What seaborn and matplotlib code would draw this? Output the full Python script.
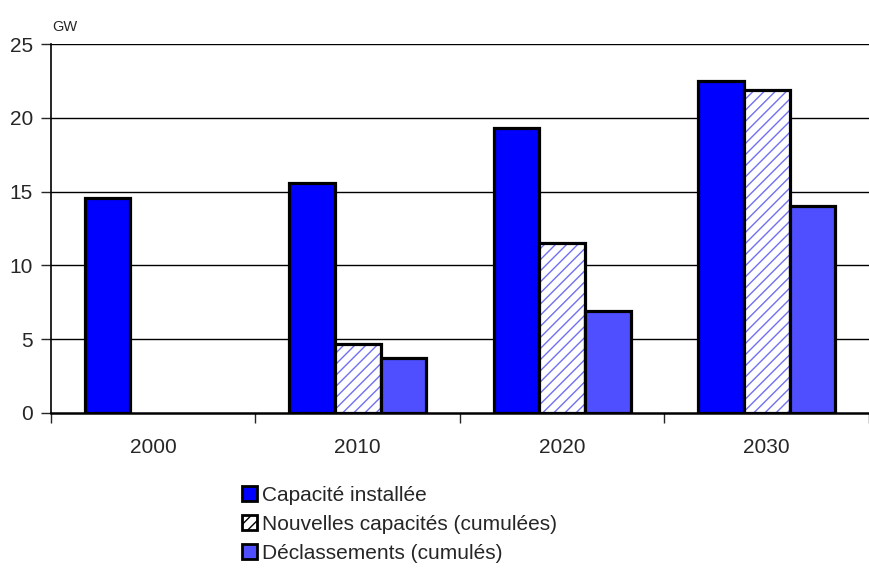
import matplotlib
matplotlib.use("Agg")
import matplotlib.pyplot as plt
import seaborn as sns
import pandas as pd
from matplotlib.patches import Patch

years = ["2000", "2010", "2020", "2030"]
series = ["Capacité installée", "Nouvelles capacités (cumulées)", "Déclassements (cumulés)"]
capacite = [14.6, 15.6, 19.3, 22.5]
nouvelles = [0, 4.7, 11.5, 21.9]
declass = [0, 3.7, 6.9, 14.0]
yticks = [0, 5, 10, 15, 20, 25]

rows = []
for name, vals in zip(series, [capacite, nouvelles, declass]):
    for y, v in zip(years, vals):
        rows.append({"year": y, "series": name, "value": v})
df = pd.DataFrame(rows)

sns.set_style("white")
plt.rcParams["font.family"] = ["Liberation Sans", "DejaVu Sans"]
plt.rcParams["hatch.linewidth"] = 1.0

colors = {"Capacité installée": "#0000FF",
          "Nouvelles capacités (cumulées)": "#FFFFFF",
          "Déclassements (cumulés)": "#4F4FFF"}

fig = plt.figure(figsize=(8.7, 5.68), dpi=100)
ax = fig.add_axes([51/870, (568-413)/568, (869-51)/870, (413-44)/568])

for y in yticks[1:]:
    ax.axhline(y, color="black", lw=1.0, zorder=0)

sns.barplot(data=df, x="year", y="value", hue="series", palette=colors,
            width=0.67, dodge=True, ax=ax, legend=False,
            edgecolor="black", linewidth=2.3, saturation=1, zorder=2)

for bar in ax.containers[1]:
    bar.set_hatch("///")
    bar._hatch_color = matplotlib.colors.to_rgba("#7070f0")
    bar.stale = True
for cont in ax.containers:
    for bar in cont:
        if bar.get_height() == 0:
            bar.set_visible(False)

ax.set_ylim(0, 25)
ax.set_xlim(-0.5, 3.5)
ax.set_yticks(yticks)
ax.set_yticklabels([str(t) for t in yticks], fontsize=15)
ax.tick_params(axis="y", length=7, width=1, direction="out", left=True, pad=6)
ax.tick_params(axis="x", which="major", length=0, labelsize=15, pad=18)
ax.set_xticks([-0.5, 0.5, 1.5, 2.5, 3.5], minor=True)
ax.tick_params(axis="x", which="minor", length=7, width=1, direction="out", bottom=True)
ax.set_xlabel("")
ax.set_ylabel("")
for s in ["top", "right"]:
    ax.spines[s].set_visible(False)
ax.spines["left"].set_linewidth(1.2)
ax.spines["bottom"].set_linewidth(1.8)
ax.spines["left"].set_color("black")
ax.spines["bottom"].set_color("black")

fig.text(52/870, 1 - 27/568, "GW", fontsize=10.5, va="center", ha="left")

handles = [
    Patch(facecolor="#0000FF", edgecolor="black", linewidth=2),
    Patch(facecolor="white", edgecolor="black", linewidth=2, hatch="///"),
    Patch(facecolor="#4F4FFF", edgecolor="black", linewidth=2),
]
leg = fig.legend(handles, series, loc="upper left", bbox_to_anchor=(242/870, 1 - 486/568),
                 frameon=False, fontsize=15, handlelength=0.7, handleheight=0.7,
                 handletextpad=0.25, labelspacing=0.47, borderaxespad=0, borderpad=0)

fig.savefig("out.png", dpi=100)
